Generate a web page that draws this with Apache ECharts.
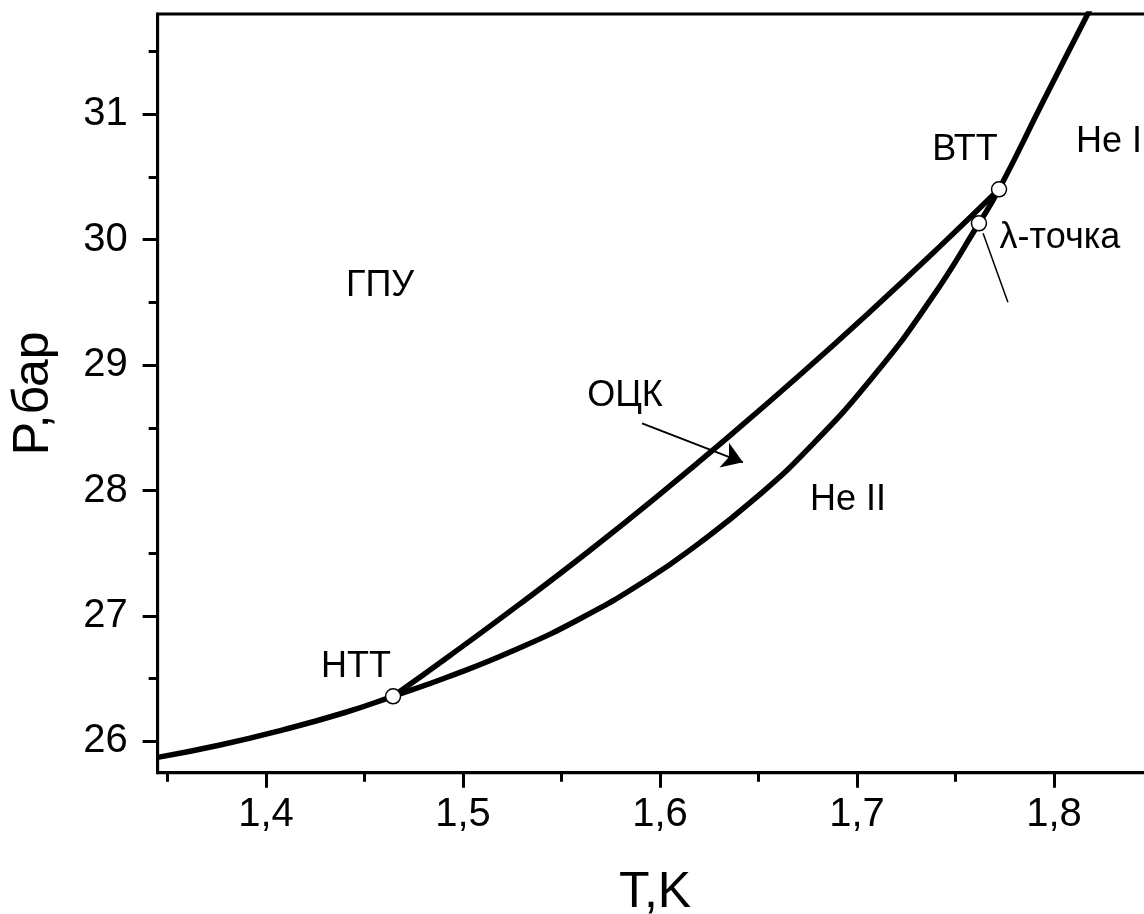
<!DOCTYPE html>
<html><head><meta charset="utf-8">
<script src="https://cdn.jsdelivr.net/npm/echarts@6/dist/echarts.min.js"></script>
<style>html,body{margin:0;padding:0;background:#fff}#c{width:1144px;height:914px}</style>
</head><body><div id="c"></div>
<script>
// Axis ticks
const xMajorTicks = [1.4, 1.5, 1.6, 1.7, 1.8];
const xMinorTicks = [1.35, 1.45, 1.55, 1.65, 1.75, 1.85];
const yMajorTicks = [26, 27, 28, 29, 30, 31];
const yMinorTicks = [26.5, 27.5, 28.5, 29.5, 30.5, 31.5];

// Melting curve (solid - He II - He I), [T, P]
const meltingCurve = [
  [1.345, 25.872], [1.3767, 25.971], [1.4086, 26.092], [1.4401, 26.230],
  [1.4645, 26.359], [1.4919, 26.511], [1.5254, 26.722], [1.5594, 26.978],
  [1.5934, 27.289], [1.6203, 27.585], [1.6477, 27.929], [1.6746, 28.322],
  [1.7081, 28.907], [1.7371, 29.516], [1.7619, 30.131], [1.7721, 30.402],
  [1.7944, 31.10], [1.8168, 31.79], [1.822, 31.95]
];
// hcp - bcc boundary (ОЦК region upper edge), [T, P]
const bccBoundary = [
  [1.4645, 26.359], [1.4934, 26.685], [1.5289, 27.096], [1.5645, 27.524],
  [1.6000, 27.972], [1.6355, 28.438], [1.6711, 28.923], [1.7066, 29.426],
  [1.7421, 29.947], [1.7721, 30.402]
];
// Special points: НТТ, λ-point, ВТТ
const specialPoints = [[1.4645, 26.359], [1.7619, 30.131], [1.7721, 30.402]];
// Text annotations [T, P, text]
const annotations = [
  [1.4579, 29.628, 'ГПУ'],
  [1.5822, 28.751, 'ОЦК'],
  [1.6954, 27.922, 'He II'],
  [1.8279, 30.777, 'He I'],
  [1.7548, 30.713, 'ВТТ'],
  [1.8030, 30.011, 'λ-точка'],
  [1.4457, 26.590, 'НТТ']
];
const arrowOCK = [[1.5909, 28.536], [1.6421, 28.225]];
const lambdaPointer = [[1.7640, 30.051], [1.7766, 29.501]];

const FONT = 'Liberation Sans, Arial, sans-serif';
const fmt = v => Number(v).toFixed(1).replace('.', ',');
const xr = {min: 1.345, max: 1.85};
const yr = {min: 25.75, max: 31.8};

const chart = echarts.init(document.getElementById('c'), null, {renderer: 'canvas'});
chart.setOption({
  animation: false,
  backgroundColor: '#fff',
  grid: {left: 157.65, top: 14, width: 994.85, height: 758.7, show: true,
         outerBoundsMode: 'none', containLabel: false,
         borderColor: '#000', borderWidth: 3, backgroundColor: 'transparent'},
  xAxis: [
    {type: 'value', ...xr, position: 'bottom', name: 'T,K', nameLocation: 'middle', nameGap: 96,
     nameTextStyle: {fontFamily: FONT, fontSize: 50, color: '#000'},
     axisLine: {show: true, onZero: false, lineStyle: {color: '#000', width: 3}},
     axisTick: {show: true, inside: false, length: 15, customValues: xMajorTicks, lineStyle: {color: '#000', width: 3}},
     axisLabel: {show: true, customValues: xMajorTicks, margin: 22, formatter: fmt,
                 fontFamily: FONT, fontSize: 40, color: '#000'},
     splitLine: {show: false}},
    {type: 'value', ...xr, position: 'bottom',
     axisLine: {show: false, onZero: false},
     axisTick: {show: true, inside: false, length: 9, customValues: xMinorTicks, lineStyle: {color: '#000', width: 3}},
     axisLabel: {show: false}, splitLine: {show: false}}
  ],
  yAxis: [
    {type: 'value', ...yr, position: 'left', name: 'P,бар', nameLocation: 'middle', nameGap: 98,
     nameTextStyle: {fontFamily: FONT, fontSize: 50, color: '#000'},
     axisLine: {show: true, onZero: false, lineStyle: {color: '#000', width: 3}},
     axisTick: {show: true, inside: false, length: 15, customValues: yMajorTicks, lineStyle: {color: '#000', width: 3}},
     axisLabel: {show: true, customValues: yMajorTicks, margin: 30, formatter: v => String(Math.round(v)),
                 fontFamily: FONT, fontSize: 40, color: '#000'},
     splitLine: {show: false}},
    {type: 'value', ...yr, position: 'left',
     axisLine: {show: false, onZero: false},
     axisTick: {show: true, inside: false, length: 9, customValues: yMinorTicks, lineStyle: {color: '#000', width: 3}},
     axisLabel: {show: false}, splitLine: {show: false}}
  ],
  series: [
    {type: 'line', name: 'melting', data: meltingCurve, xAxisIndex: 0, yAxisIndex: 0,
     smooth: 0.5, showSymbol: false, symbol: 'none', clip: true,
     lineStyle: {color: '#000', width: 5.5}, z: 3},
    {type: 'line', name: 'bcc', data: bccBoundary, xAxisIndex: 0, yAxisIndex: 0,
     smooth: 0.5, showSymbol: false, symbol: 'none', clip: true,
     lineStyle: {color: '#000', width: 5.5}, z: 3},
    {type: 'lines', coordinateSystem: 'cartesian2d', xAxisIndex: 0, yAxisIndex: 0,
     data: [{coords: arrowOCK}], symbol: ['none', 'arrow'], symbolSize: [0, 20],
     lineStyle: {color: '#000', width: 2, opacity: 1}, z: 4},
    {type: 'lines', coordinateSystem: 'cartesian2d', xAxisIndex: 0, yAxisIndex: 0,
     data: [{coords: lambdaPointer}], symbol: ['none', 'none'],
     lineStyle: {color: '#000', width: 1.5, opacity: 1}, z: 4},
    {type: 'scatter', data: specialPoints, xAxisIndex: 0, yAxisIndex: 0,
     symbol: 'circle', symbolSize: 15,
     itemStyle: {color: '#fff', borderColor: '#000', borderWidth: 1.5, opacity: 1}, z: 5},
    {type: 'scatter', data: annotations, xAxisIndex: 0, yAxisIndex: 0,
     symbolSize: 1, itemStyle: {color: 'transparent', opacity: 1}, z: 6, silent: true,
     label: {show: true, position: 'inside', formatter: p => p.data[2], opacity: 1,
             textBorderWidth: 0, fontFamily: FONT, fontSize: 36, color: '#000'}}
  ]
});
</script></body></html>
